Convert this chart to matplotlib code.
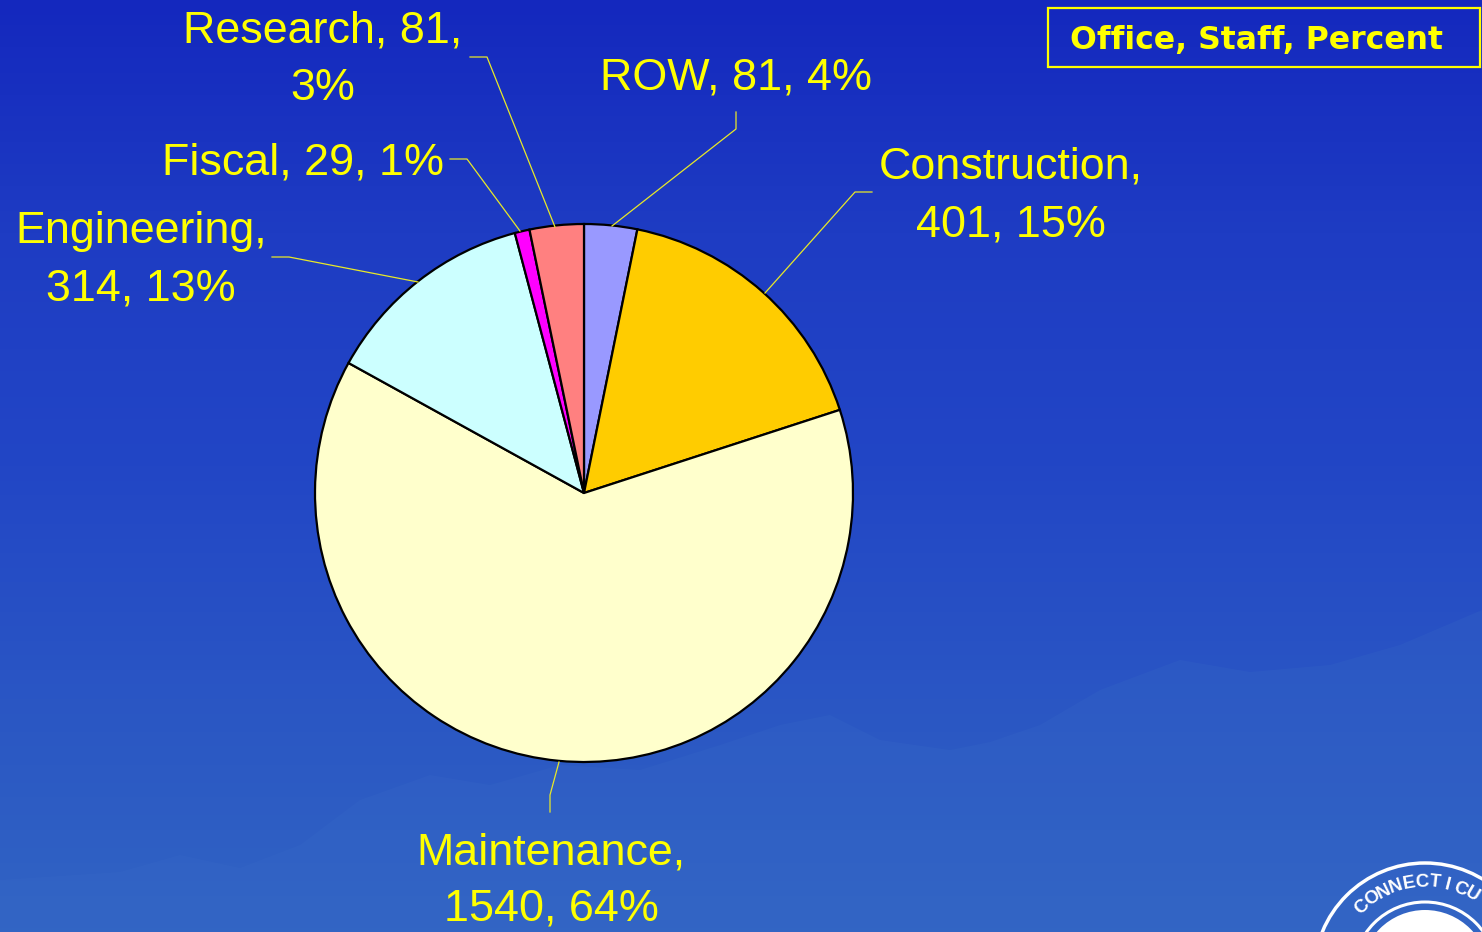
import numpy as np
import matplotlib
matplotlib.use('Agg')
import matplotlib.pyplot as plt
from matplotlib.colors import LinearSegmentedColormap
from matplotlib.patches import Circle, Rectangle, Polygon

# Chart data
offices = ['ROW', 'Construction', 'Maintenance', 'Engineering', 'Fiscal', 'Research']
staff = [81, 401, 1540, 314, 29, 81]
percents = [4, 15, 64, 13, 1, 3]
# slice sizes, they differ a bit from the printed labels
slice_shares = [3.18, 16.82, 63.03, 12.83, 0.89, 3.25]
slice_colors = ['#9999FF', '#FFCC00', '#FFFFCC', '#CCFFFF', '#FF00FF', '#FF8080']

W, H = 1482, 932
YELLOW = '#FFFF00'
FONT = 'Liberation Sans'

# Label centres in pixels from the top left
label_pos = {
    'ROW': (736, 78),
    'Construction': (1011, 196),
    'Maintenance': (551, 881),
    'Engineering': (141, 260),
    'Fiscal': (303, 163),
    'Research': (323, 60),
}
label_fmt = {
    'ROW': '%s, %d, %d%%',
    'Construction': '%s,\n%d, %d%%',
    'Maintenance': '%s,\n%d, %d%%',
    'Engineering': '%s,\n%d, %d%%',
    'Fiscal': '%s, %d, %d%%',
    'Research': '%s, %d,\n%d%%',
}
leaders = {
    'ROW': [(736, 112), (736, 129), (612, 226)],
    'Construction': [(872, 192), (855, 192), (765, 293)],
    'Maintenance': [(550, 812), (550, 795), (559, 762)],
    'Engineering': [(272, 257), (289, 257), (418, 282)],
    'Fiscal': [(450, 159), (467, 159), (520, 231)],
    'Research': [(470, 57), (487, 57), (555, 227)],
}


def fy(y):
    # pixel row to axes y
    return H - y


fig = plt.figure(figsize=(W / 100, H / 100), dpi=100)
ax = fig.add_axes([0, 0, 1, 1])

# Background gradient
bg = LinearSegmentedColormap.from_list('bg', ['#1428BE', '#1E3CC3', '#2246C6', '#2A56C4', '#3164C3'])
ramp = np.linspace(0, 1, 256).reshape(-1, 1)
ax.imshow(ramp, cmap=bg, extent=[0, W, 0, H], aspect='auto', zorder=0)

# Faint coastline in the backdrop
coast = [(0, 880), (120, 872), (180, 855), (240, 868), (300, 845), (360, 800), (430, 775), (490, 785),
         (560, 765), (640, 770), (720, 745), (780, 725), (830, 715), (880, 740), (950, 750), (990, 742),
         (1040, 725), (1100, 690), (1180, 660), (1250, 672), (1330, 665), (1400, 645), (1482, 610),
         (1482, 932), (0, 932)]
ax.add_patch(Polygon([(x, fy(y)) for x, y in coast], closed=True, fc='#3A6CC8', ec='none', alpha=0.22, zorder=1))

# Pie
ax.pie(slice_shares, colors=slice_colors, startangle=90, counterclock=False,
       center=(584, fy(493)), radius=269, frame=True,
       wedgeprops={'edgecolor': 'black', 'linewidth': 1.6, 'zorder': 3})
ax.set_xlim(0, W)
ax.set_ylim(0, H)
ax.set_aspect('auto')
ax.axis('off')

# Labels and leader lines
for name, n, p in zip(offices, staff, percents):
    x, y = label_pos[name]
    ax.text(x, fy(y), label_fmt[name] % (name, n, p), color=YELLOW, fontsize=32.3, family=FONT,
            ha='center', va='center', linespacing=1.5, zorder=5)
    path = leaders[name]
    ax.plot([q[0] for q in path], [fy(q[1]) for q in path], color='#E8E828', lw=0.9, zorder=4)

# Legend title box
ax.add_patch(Rectangle((1048, fy(67)), 432, 59, fc='none', ec=YELLOW, lw=1.6, zorder=5))
ax.text(1256, fy(40), 'Office, Staff, Percent', color=YELLOW, fontsize=22.7, family='DejaVu Sans',
        fontweight='bold', ha='center', va='center', zorder=5)

# Seal in the corner
cx, cy = 1425, fy(974)
ax.add_patch(Circle((cx, cy), 111, fc='none', ec='white', lw=2.5, zorder=2))
ax.add_patch(Circle((cx, cy), 72, fc='none', ec='white', lw=2.2, zorder=2))
ax.add_patch(Circle((cx, cy), 64, fc='white', ec='none', zorder=2))
for i, ch in enumerate('CONNECTICU'):
    a = -43 + i * 8.2
    ax.text(cx + 92 * np.sin(np.radians(a)), cy + 92 * np.cos(np.radians(a)), ch, color='white',
            fontsize=13.5, family=FONT, fontweight='bold', rotation=-a, ha='center', va='center', zorder=3)

fig.savefig('out.png', dpi=100)
